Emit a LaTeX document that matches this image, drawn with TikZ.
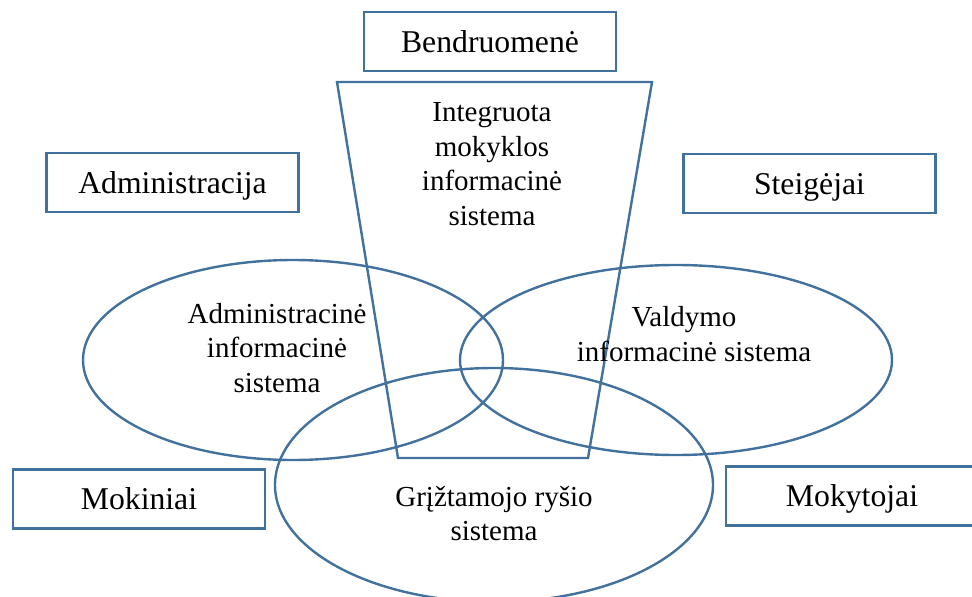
\documentclass[tikz,border=0pt]{standalone}
\usepackage{fontspec}
\setmainfont{Liberation Serif}
\definecolor{edgeblue}{RGB}{65,113,156}
\begin{document}
\begin{tikzpicture}[x=1pt,y=-1pt,
  shapeline/.style={draw=edgeblue,line width=2.4pt},
  labelbox/.style={shapeline,fill=white,rectangle,minimum width=252pt,minimum height=59pt,
    inner sep=0pt,text height=21.5pt,text depth=0pt,font=\fontsize{31.7}{36}\selectfont},
  innertext/.style={align=center,inner sep=0pt,font=\fontsize{29}{34.5}\selectfont}]
\useasboundingbox (0,0) rectangle (972,597);
\clip (0,0) rectangle (972,597);
% ellipses
\draw[shapeline] (293,360) ellipse [x radius=210pt,y radius=100pt];
\draw[shapeline] (676,360) ellipse [x radius=216pt,y radius=95pt];
\draw[shapeline] (494,485) ellipse [x radius=219pt,y radius=117pt];
% trapezoid
\coordinate (tl) at (337,82);
\coordinate (tr) at (652,82);
\coordinate (br) at (588,458);
\coordinate (bl) at (398,458);
\draw[shapeline,line join=miter] (tl) -- (tr) -- (br) -- (bl) -- cycle;
% boxes
\node[labelbox] (bend) at (490,41.5) {Bendruomenė};
\node[labelbox] (admin) at (172.5,182.5) {Administracija};
\node[labelbox] (steig) at (809.5,183.5) {Steigėjai};
\node[labelbox] (mokin) at (139,499) {Mokiniai};
\node[labelbox] (mokyt) at (852,496) {Mokytojai};
% inner texts
\node[innertext] (ims) at (492,164) {Integruota\\mokyklos\\informacinė\\sistema};
\node[innertext] (ais) at (277,347.6) {Administracinė\\informacinė\\sistema};
\node[innertext] (vis) at (694,334) {Valdymo\hspace*{20pt}\\informacinė sistema};
\node[innertext] (grs) at (494,513.6) {Grįžtamojo ryšio\\sistema};
\end{tikzpicture}
\end{document}
